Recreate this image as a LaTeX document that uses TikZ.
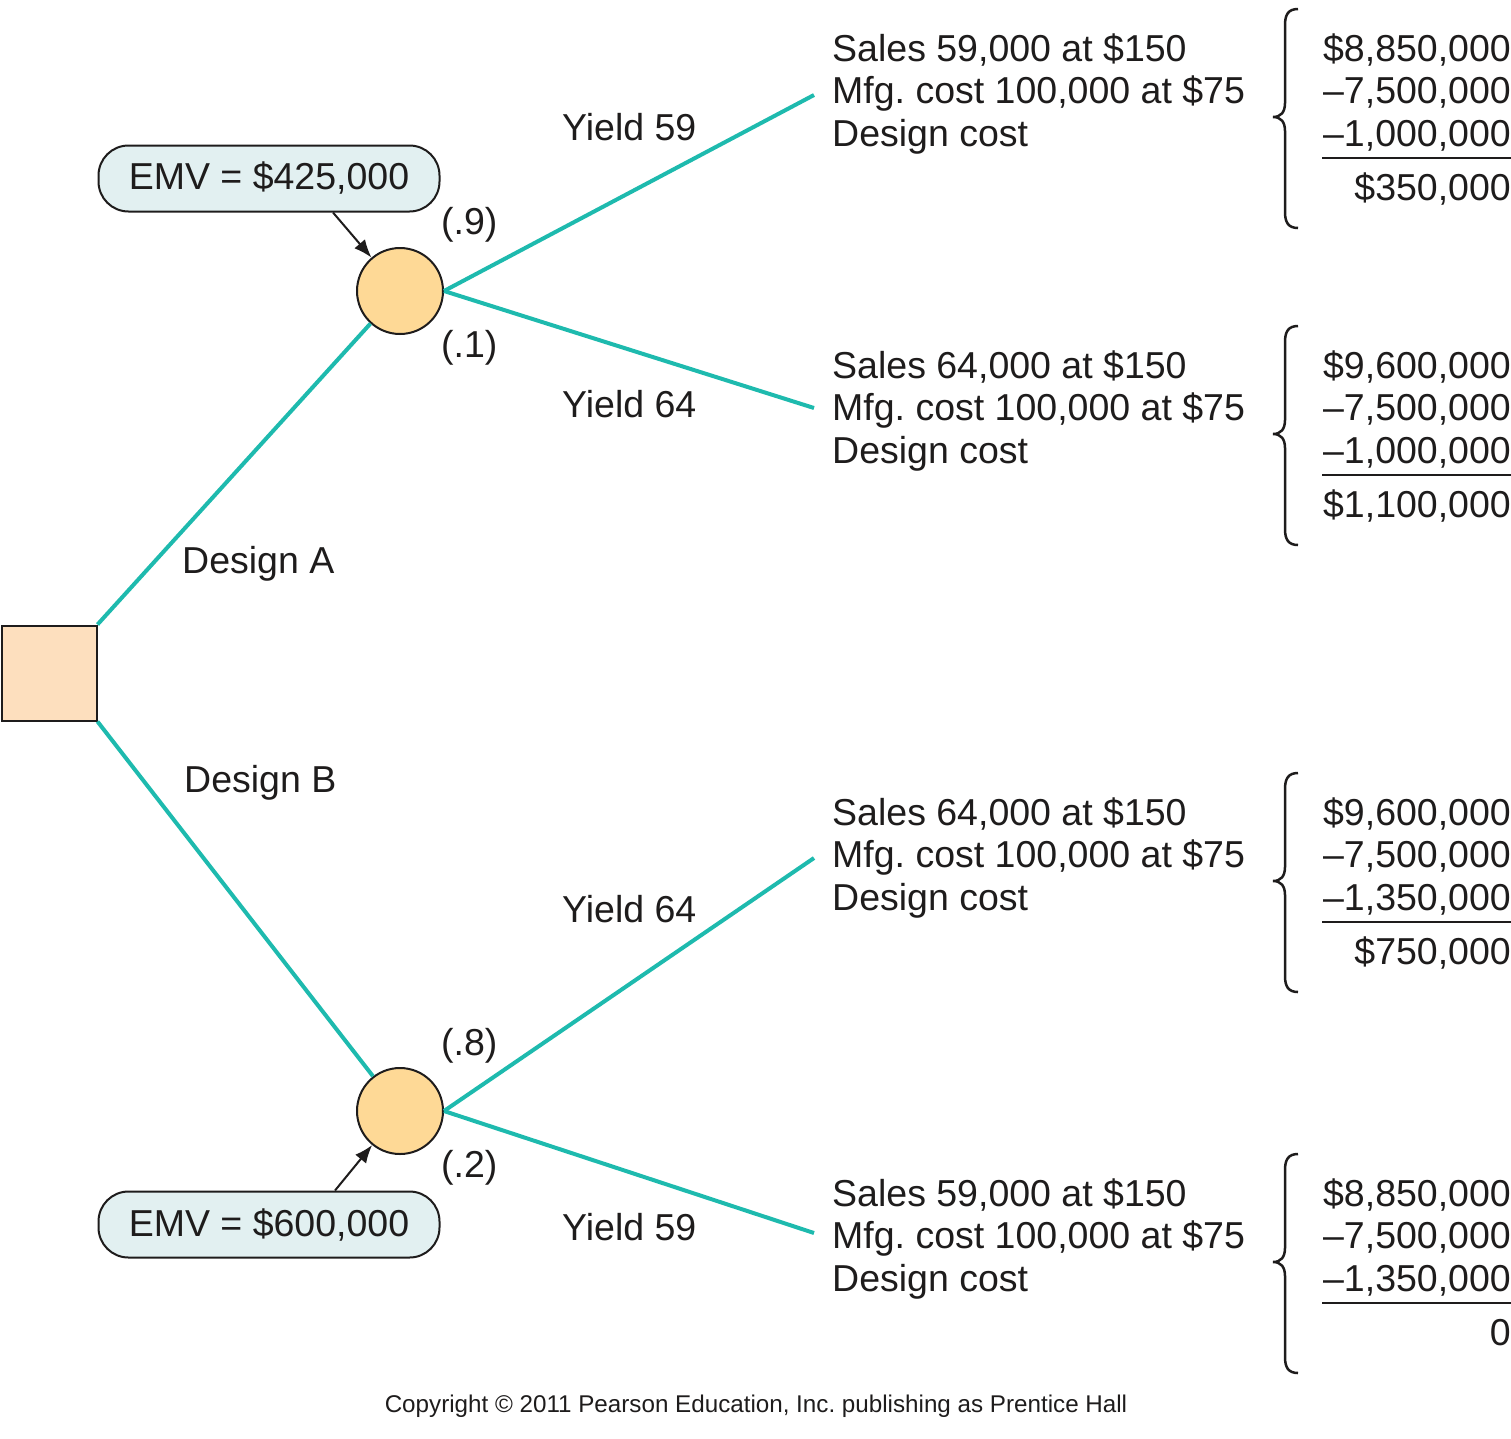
\documentclass[tikz,border=0pt]{standalone}
\usepackage{fontspec}
\setmainfont{Liberation Sans}
\usetikzlibrary{arrows.meta}
\frenchspacing
\definecolor{teal1}{RGB}{30,186,174}
\definecolor{circfill}{RGB}{254,217,150}
\definecolor{sqfill}{RGB}{253,223,190}
\definecolor{emvfill}{RGB}{226,240,241}
\definecolor{ink}{RGB}{30,28,28}
\newcommand{\bigtxt}{\fontsize{37.5}{42.5}\selectfont}
\newcommand{\outcomeblock}[6]{%
  \node[txt] (s#6) at (832,#1) {Sales #2,000 at \$150};
  \node[txt] (m#6) at (832,#1+42.5) {Mfg. cost 100,000 at \$75};
  \node[txt] (g#6) at (832,#1+85) {Design cost};
  \node[num] (n1#6) at (1511,#1) {#3};
  \node[num] (n2#6) at (1511,#1+42.5) {–7,500,000};
  \node[num] (n3#6) at (1511,#1+85) {–#4};
  \node[num] (n4#6) at (1511,#1+139) {#5};
  \coordinate (rl#6) at (1322,#1+97);
  \coordinate (rr#6) at (1511,#1+97);
  \draw[rulestyle] (rl#6) -- (rr#6);
  \draw[bracestyle] (1298,#1-52) .. controls (1288,#1-52) and (1285,#1-46) .. (1285,#1-36)
     -- (1285,#1+42) .. controls (1285,#1+51) and (1281,#1+56) .. (1273,#1+56)
     .. controls (1281,#1+56) and (1285,#1+61) .. (1285,#1+70)
     -- (1285,#1+151) .. controls (1285,#1+161) and (1288,#1+167) .. (1298,#1+167);
}
\begin{document}
\begin{tikzpicture}[x=1pt,y=-1pt,
  txt/.style={inner sep=0pt,anchor=base west,text=ink,font=\bigtxt},
  num/.style={inner sep=0pt,anchor=base east,text=ink,font=\bigtxt},
  branch/.style={draw=teal1,line width=4pt},
  chance/.style={circle,draw=ink,line width=2pt,fill=circfill,minimum size=86pt,inner sep=0pt},
  decision/.style={rectangle,draw=ink,line width=2pt,fill=sqfill,minimum size=95pt,inner sep=0pt},
  emvbox/.style={rectangle,rounded corners=30pt,draw=ink,line width=2pt,fill=emvfill,minimum width=341pt,minimum height=66pt,inner sep=0pt,text=ink,font=\bigtxt},
  emvarrow/.style={draw=ink,line width=2pt,-{Latex[length=18pt,width=14pt]}},
  bracestyle/.style={draw=ink,line width=2.5pt},
  rulestyle/.style={draw=ink,line width=2pt}]
\useasboundingbox (0,0) rectangle (1511,1438);

% nodes
\node[decision] (sq) at (49,673) {};
\node[chance] (cA) at (400,291) {};
\node[chance] (cB) at (400,1111) {};
\node[emvbox] (emvA) at (269,178.5) {EMV = \$425,000};
\node[emvbox] (emvB) at (269,1224.5) {EMV = \$600,000};

% end points of branches
\coordinate (eA1) at (814,95);
\coordinate (eA2) at (814,408);
\coordinate (eB1) at (814,858);
\coordinate (eB2) at (814,1233);

% connectors
\draw[branch] (sq.north east) -- (cA);
\draw[branch] (sq.south east) -- (cB);
\draw[branch] (cA.east) -- (eA1);
\draw[branch] (cA.east) -- (eA2);
\draw[branch] (cB.east) -- (eB1);
\draw[branch] (cB.east) -- (eB2);
\draw[emvarrow] ([xshift=64pt]emvA.south) -- (cA);
\draw[emvarrow] ([xshift=66pt]emvB.north) -- (cB);

% labels
\node[txt] (dA) at (182,573) {Design A};
\node[txt] (dB) at (184,792) {Design B};
\node[txt] (yA1) at (562,140) {Yield 59};
\node[txt] (yA2) at (562,417) {Yield 64};
\node[txt] (yB1) at (562,922) {Yield 64};
\node[txt] (yB2) at (562,1240) {Yield 59};
\node[txt] (pA1) at (441,234) {(.9)};
\node[txt] (pA2) at (441,357) {(.1)};
\node[txt] (pB1) at (441,1055) {(.8)};
\node[txt] (pB2) at (441,1177) {(.2)};

% outcome blocks
\outcomeblock{61}{59}{\$8,850,000}{1,000,000}{\$350,000}{a}
\outcomeblock{378}{64}{\$9,600,000}{1,000,000}{\$1,100,000}{b}
\outcomeblock{825}{64}{\$9,600,000}{1,350,000}{\$750,000}{c}
\outcomeblock{1206}{59}{\$8,850,000}{1,350,000}{0}{d}

\node[inner sep=0pt,anchor=base,text=ink,font=\fontsize{24.2}{28}\selectfont] (copy) at (756,1412) {Copyright © 2011 Pearson Education, Inc. publishing as Prentice Hall};
\end{tikzpicture}
\end{document}
